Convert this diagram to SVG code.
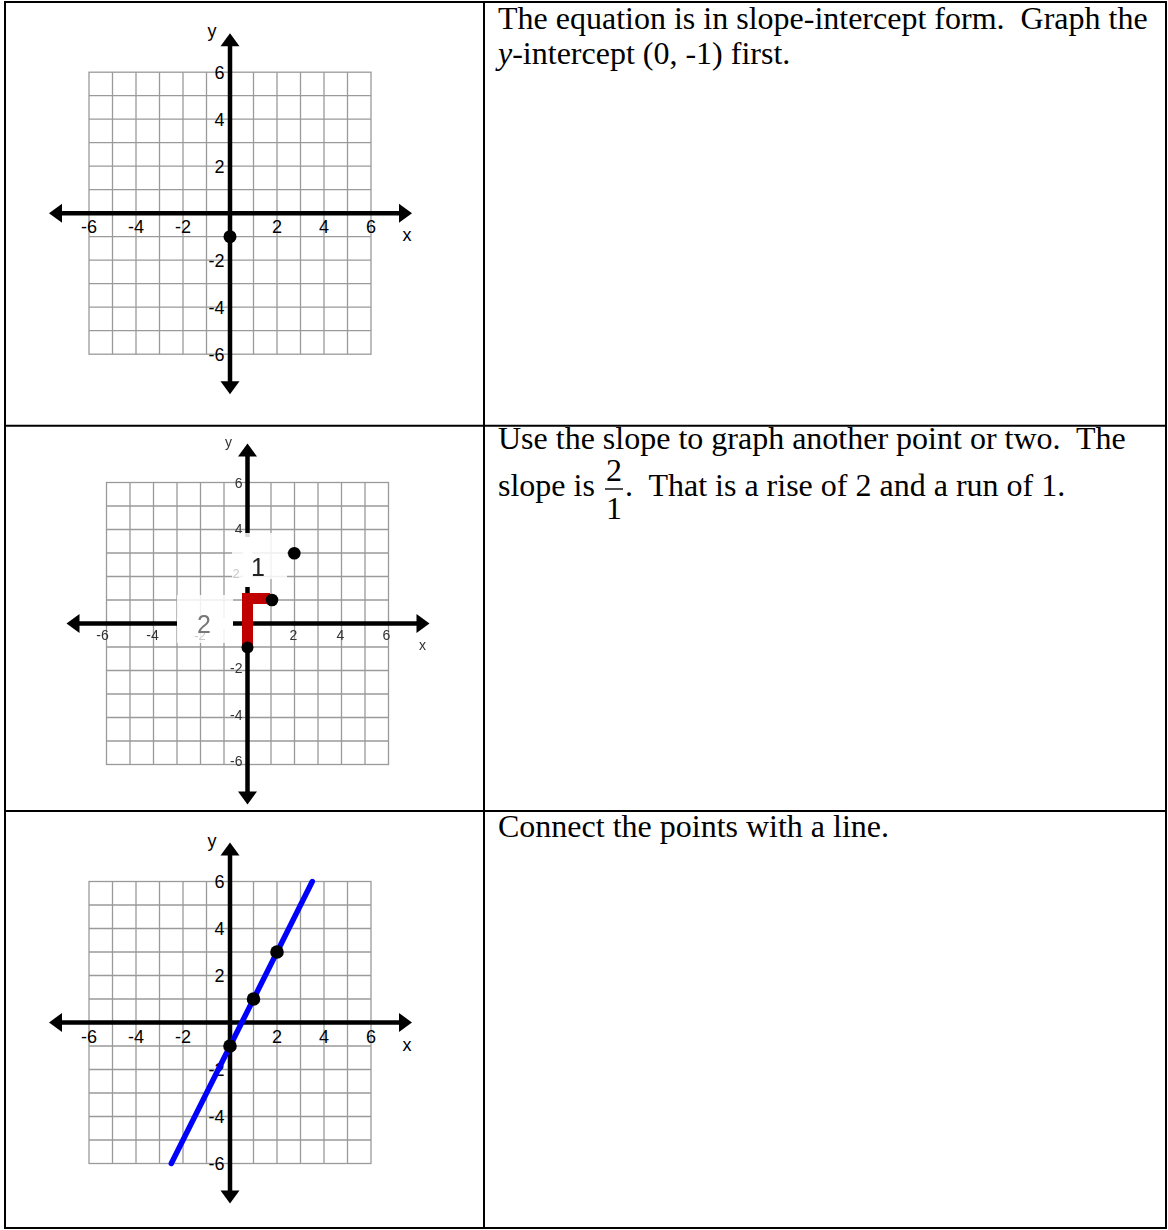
<svg xmlns="http://www.w3.org/2000/svg" xmlns:xlink="http://www.w3.org/1999/xlink" width="1168" height="1230" viewBox="0 0 1168 1230">
<style>
.grid{stroke:#9a9a9a;stroke-width:1.3;fill:none}
.axis{stroke:#000;stroke-width:4.5;fill:none}
.ah{fill:#000}
.lbl{font-family:"Liberation Sans",Arial,sans-serif;font-size:18px;fill:#000}
.lbl2{font-family:"Liberation Sans",Arial,sans-serif;font-size:14px;fill:#333}
.txt{font-family:"Liberation Serif","Times New Roman",serif;font-size:32px;fill:#000}
.tbl{stroke:#000;stroke-width:2;fill:none}
.dot{fill:#000}
</style>
<defs>
<g id="gridaxes">
<rect class="grid" x="-141" y="-141" width="282" height="282"/>
<path class="grid" d="M-117.5-141V141M-94-141V141M-70.5-141V141M-47-141V141M-23.5-141V141M23.5-141V141M47-141V141M70.5-141V141M94-141V141M117.5-141V141M-141-117.5H141M-141-94H141M-141-70.5H141M-141-47H141M-141-23.5H141M-141 23.5H141M-141 47H141M-141 70.5H141M-141 94H141M-141 117.5H141"/>
<path class="axis" d="M-170 0H170M0-169V170"/>
<polygon class="ah" points="-181,0 -168,-9.5 -168,9.5"/>
<polygon class="ah" points="182,0 169,-9.5 169,9.5"/>
<polygon class="ah" points="0,-180 -9.5,-167 9.5,-167"/>
<polygon class="ah" points="0,181 -9.5,168 9.5,168"/>
</g>
<g id="labels" class="lbl">
<g text-anchor="middle">
<text x="-141" y="20">-6</text><text x="-94" y="20">-4</text><text x="-47" y="20">-2</text>
<text x="47" y="20">2</text><text x="94" y="20">4</text><text x="141" y="20">6</text>
<text x="-18" y="-176">y</text><text x="177" y="28">x</text>
</g>
<g text-anchor="end">
<text x="-5.5" y="-134.5">6</text><text x="-5.5" y="-87.5">4</text><text x="-5.5" y="-40.5">2</text>
<text x="-5.5" y="53.5">-2</text><text x="-5.5" y="100.5">-4</text><text x="-5.5" y="147.5">-6</text>
</g>
</g>
<filter id="soft" x="-10%" y="-10%" width="120%" height="120%"><feGaussianBlur stdDeviation="0.55"/></filter>
</defs>

<g id="table">
<rect class="tbl" x="5" y="2" width="1161" height="1226"/>
<line class="tbl" x1="484" y1="2" x2="484" y2="1228"/>
<line class="tbl" x1="5" y1="425.7" x2="1166" y2="425.7"/>
<line class="tbl" x1="5" y1="811" x2="1166" y2="811"/>
</g>

<g id="graph1">
<use xlink:href="#gridaxes" href="#gridaxes" transform="translate(230,213.2)"/>
<use xlink:href="#labels" href="#labels" transform="translate(230,213.2)"/>
<circle class="dot" cx="230" cy="236.7" r="6.5"/>
</g>

<g id="graph2" filter="url(#soft)">
<g transform="translate(247.5,623.5)">
<use xlink:href="#gridaxes" href="#gridaxes"/>
<g class="lbl2" text-anchor="middle">
<text x="-145" y="16.5">-6</text><text x="-95" y="16.5">-4</text>
<text x="46" y="16.5">2</text><text x="93" y="16.5">4</text><text x="139" y="16.5">6</text>
<text x="-19" y="-177">y</text><text x="175" y="26">x</text>
</g>
<g class="lbl2" text-anchor="end">
<text x="-5" y="-136">6</text><text x="-5" y="-90">4</text>
<text x="-5" y="49">-2</text><text x="-5" y="96">-4</text><text x="-5" y="142">-6</text>
</g>
</g>
<rect x="232" y="533" width="55" height="46" fill="#fff" fill-opacity="0.85"/>
<rect x="243" y="537" width="9" height="50" fill="#fff"/>
<rect x="177" y="595" width="56" height="48" fill="#fff" fill-opacity="0.85"/>
<rect x="177" y="618" width="56" height="11" fill="#fff"/>
<text x="236" y="578" text-anchor="middle" style="font-family:'Liberation Sans',Arial,sans-serif;font-size:13px;fill:#c8c8c8">2</text>
<text x="200" y="640" text-anchor="middle" style="font-family:'Liberation Sans',Arial,sans-serif;font-size:13px;fill:#c8c8c8">-2</text>
<text x="258" y="576" text-anchor="middle" style="font-family:'Liberation Sans',Arial,sans-serif;font-size:25px;fill:#222">1</text>
<text x="204" y="633" text-anchor="middle" style="font-family:'Liberation Sans',Arial,sans-serif;font-size:25px;fill:#777">2</text>
<path d="M247.5 646V598.5H270" fill="none" stroke="#c00000" stroke-width="11"/>
<circle class="dot" cx="247.5" cy="647.5" r="6"/>
<circle class="dot" cx="272" cy="600" r="6.3"/>
<circle class="dot" cx="294.3" cy="553.3" r="6.3"/>
</g>

<g id="graph3">
<use xlink:href="#gridaxes" href="#gridaxes" transform="translate(230,1022.5)"/>
<use xlink:href="#labels" href="#labels" transform="translate(230,1022.5)"/>
<line x1="171.3" y1="1163.5" x2="312.3" y2="881.5" stroke="#0000ff" stroke-width="5.5" stroke-linecap="round"/>
<circle class="dot" cx="230" cy="1046" r="6.8"/>
<circle class="dot" cx="253.5" cy="999" r="6.8"/>
<circle class="dot" cx="277" cy="952" r="6.8"/>
</g>

<g id="text1" class="txt">
<text x="498" y="29" xml:space="preserve">The equation is in slope-intercept form.  Graph the</text>
<text x="498" y="64"><tspan font-style="italic">y</tspan>-intercept (0, -1) first.</text>
</g>

<g id="text2" class="txt">
<text x="498" y="449" xml:space="preserve">Use the slope to graph another point or two.  The</text>
<text x="498" y="496">slope is</text>
<text x="614" y="481" text-anchor="middle">2</text>
<line x1="605" y1="489" x2="623" y2="489" stroke="#000" stroke-width="1.4"/>
<text x="614" y="519" text-anchor="middle">1</text>
<text x="625" y="496" xml:space="preserve">.  That is a rise of 2 and a run of 1.</text>
</g>

<g id="text3" class="txt">
<text x="498" y="837">Connect the points with a line.</text>
</g>
</svg>
